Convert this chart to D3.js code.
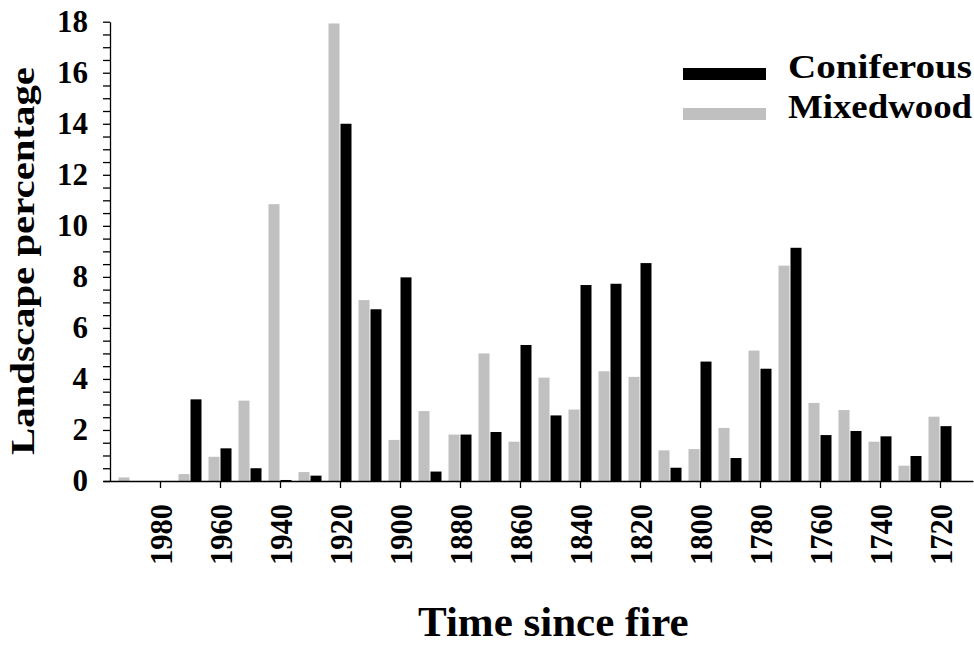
<!DOCTYPE html>
<html>
<head>
<meta charset="utf-8">
<script src="https://cdn.jsdelivr.net/npm/d3@7"></script>
<style>
  body { margin: 0; background: #fff; }
  text { font-family: "Liberation Serif", "Times New Roman", serif; font-weight: bold; }
</style>
</head>
<body>
<div id="chart"></div>
<script>
// decades (time since fire), newest first
var years = [1990, 1980, 1970, 1960, 1950, 1940, 1930, 1920, 1910, 1900,
  1890, 1880, 1870, 1860, 1850, 1840, 1830, 1820, 1810, 1800,
  1790, 1780, 1770, 1760, 1750, 1740, 1730, 1720];

// landscape percentage per decade
var coniferous = [0, 0, 3.2, 1.28, 0.5, 0.04, 0.21, 14.0, 6.73, 7.98,
  0.37, 1.82, 1.92, 5.33, 2.57, 7.68, 7.73, 8.54, 0.52, 4.68,
  0.9, 4.4, 9.14, 1.8, 1.96, 1.75, 0.98, 2.15];
var mixedwood = [0.14, 0, 0.27, 0.95, 3.15, 10.85, 0.35, 17.93, 7.09, 1.61,
  2.74, 1.82, 5.0, 1.54, 4.05, 2.8, 4.3, 4.08, 1.2, 1.25,
  2.08, 5.11, 8.44, 3.06, 2.78, 1.54, 0.6, 2.52];

var yearTicks = [1980, 1960, 1940, 1920, 1900, 1880, 1860, 1840, 1820, 1800, 1780, 1760, 1740, 1720];
var yTicks = d3.range(0, 18.01, 0.5);
var yLabels = [0, 2, 4, 6, 8, 10, 12, 14, 16, 18];

var width = 974, height = 647;

var svg = d3.select("#chart")
  .append("svg")
  .attr("width", width)
  .attr("height", height);

// x is a year scale, reversed (older to the right)
var x = d3.scaleLinear()
  .domain([1999, 1709])
  .range([103, 973]);

var y = d3.scaleLinear()
  .domain([0, 18])
  .range([481, 21.7]);

var barW = 11;

// bars
svg.append("g").selectAll("rect")
  .data(years)
  .join("rect")
  .attr("x", function (d) { return x(d) - barW - 0.5; })
  .attr("y", function (d, i) { return y(mixedwood[i]); })
  .attr("width", barW)
  .attr("height", function (d, i) { return y(0) - y(mixedwood[i]); })
  .attr("fill", "#c0c0c0");

svg.append("g").selectAll("rect")
  .data(years)
  .join("rect")
  .attr("x", function (d) { return x(d) + 0.5; })
  .attr("y", function (d, i) { return y(coniferous[i]); })
  .attr("width", barW)
  .attr("height", function (d, i) { return y(0) - y(coniferous[i]); })
  .attr("fill", "#000");

// y axis
var yAxis = svg.append("g")
  .attr("transform", "translate(110,0)")
  .call(d3.axisLeft(y)
    .tickValues(yTicks)
    .tickSize(7)
    .tickPadding(15)
    .tickSizeOuter(0)
    .tickFormat(function (d) { return yLabels.indexOf(d) >= 0 ? d : ""; }));
yAxis.selectAll("text")
  .attr("font-size", 31)
  .attr("fill", "#000");
yAxis.selectAll("line, path").attr("stroke", "#000").attr("stroke-width", 1.3);

// x axis
var xAxis = svg.append("g")
  .attr("transform", "translate(0,481)")
  .call(d3.axisBottom(x)
    .tickValues(yearTicks)
    .tickSize(7)
    .tickSizeOuter(0)
    .tickFormat(""));
xAxis.selectAll("line, path").attr("stroke", "#000").attr("stroke-width", 1.3);

// rotated year labels
svg.append("g").selectAll("text")
  .data(yearTicks)
  .join("text")
  .attr("transform", function (d) { return "translate(" + (x(d) + 11.5) + ",504) rotate(-90)"; })
  .attr("text-anchor", "end")
  .attr("font-size", 31)
  .attr("textLength", 61)
  .attr("lengthAdjust", "spacingAndGlyphs")
  .text(function (d) { return d; });

// axis titles
svg.append("text")
  .attr("transform", "translate(34,261) rotate(-90)")
  .attr("text-anchor", "middle")
  .attr("font-size", 34)
  .attr("textLength", 388)
  .attr("lengthAdjust", "spacingAndGlyphs")
  .text("Landscape percentage");

svg.append("text")
  .attr("x", 418)
  .attr("y", 636)
  .attr("font-size", 43)
  .text("Time since fire");

// legend
var legend = [
  { name: "Coniferous", color: "#000", y: 68 },
  { name: "Mixedwood", color: "#c0c0c0", y: 108 }
];
var lg = svg.append("g").selectAll("g")
  .data(legend)
  .join("g");
lg.append("rect")
  .attr("x", 683)
  .attr("y", function (d) { return d.y; })
  .attr("width", 83)
  .attr("height", 12)
  .attr("fill", function (d) { return d.color; });
lg.append("text")
  .attr("x", 788)
  .attr("y", function (d) { return d.y + 9.5; })
  .attr("font-size", 34)
  .attr("textLength", 184)
  .attr("lengthAdjust", "spacingAndGlyphs")
  .text(function (d) { return d.name; });
</script>
</body>
</html>
